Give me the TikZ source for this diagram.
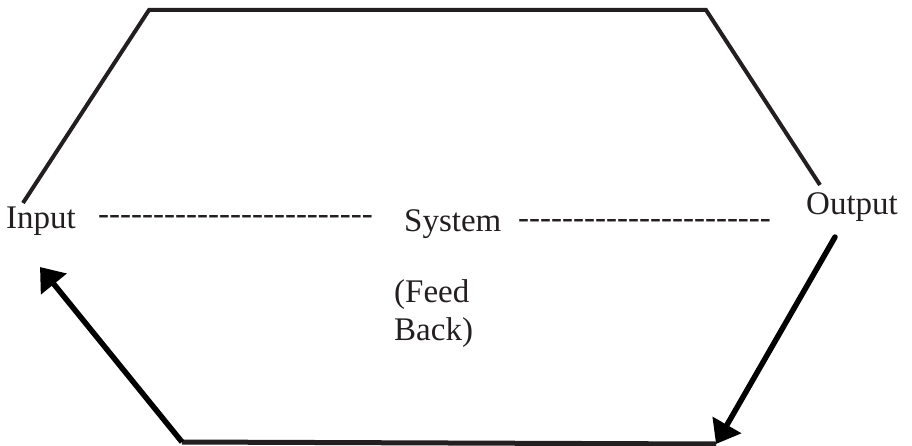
\documentclass[tikz,border=0pt]{standalone}
\usepackage{fontspec}
\setmainfont{Liberation Serif}
\usetikzlibrary{arrows.meta}
\definecolor{ink}{HTML}{231F20}
\newcommand\hyrow[1]{\foreach \k in {1,...,#1}{-{}}}
\begin{document}
\begin{tikzpicture}[x=1pt,y=-1pt,
  lbl/.style={inner sep=0pt,anchor=base west,text=ink,font=\fontsize{33}{38}\selectfont},
  frame/.style={draw=ink,line width=4pt,line join=miter},
  fb/.style={draw=black,line width=5.5pt,-{Triangle[length=22pt,width=32pt]}}]
\useasboundingbox (0,0) rectangle (912,446);
% labels
\node[lbl] (input) at (6,229) {Input};
\node[lbl] (dl) at (98,225) {\hyrow{25}};
\node[lbl] (system) at (404,232) {System};
\node[lbl] (dr) at (518,229) {\hyrow{23}};
\node[lbl] (output) at (806,215) {Output};
\node[lbl,align=left,anchor=north west] (feed) at (394,279) {(Feed\\Back)};
% frame corners
\coordinate (a) at (23,203);
\coordinate (b) at (149,10);
\coordinate (c) at (706,10);
\coordinate (d) at (820,185);
\coordinate (e) at (835,237);
\coordinate (f) at (716,444);
\coordinate (g) at (182,442);
\coordinate (h) at (40,267);
\draw[frame] (a) -- (b) -- (c) -- (d);
\draw[draw=ink,line width=5pt] (g) -- (f);
\draw[fb,line cap=round] (e) -- (f);
\draw[fb] (g) -- (h);
\end{tikzpicture}
\end{document}
